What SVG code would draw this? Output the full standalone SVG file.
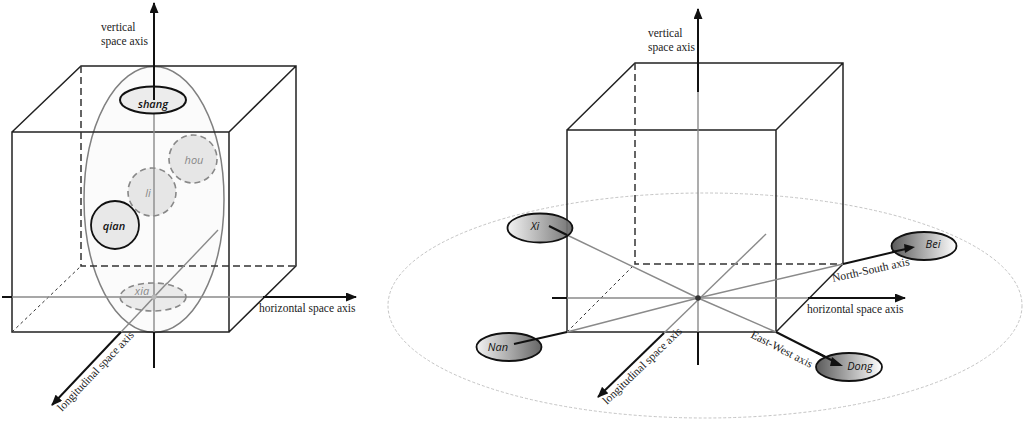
<svg xmlns="http://www.w3.org/2000/svg" width="1024" height="421" viewBox="0 0 1024 421">
<defs>
<marker id="arr" markerUnits="userSpaceOnUse" markerWidth="11" markerHeight="9" refX="10" refY="4.5" orient="auto"><path d="M0,0 L11,4.5 L0,9 z" fill="#111"/></marker>
<linearGradient id="gLD" x1="0" y1="0" x2="1" y2="0"><stop offset="0" stop-color="#f2f2f2"/><stop offset="1" stop-color="#666"/></linearGradient>
<linearGradient id="gDL" x1="0" y1="0" x2="1" y2="0"><stop offset="0" stop-color="#5a5a5a"/><stop offset="1" stop-color="#ffffff"/></linearGradient>
<style>
.cube{stroke:#222;stroke-width:1.5;fill:none}
.dash{stroke:#333;stroke-width:1.5;fill:none;stroke-dasharray:7 4}
.fdash{stroke:#333;stroke-width:1;fill:none;stroke-dasharray:3 3}
.gray{stroke:#8a8a8a;stroke-width:1.4;fill:none}
.blk{stroke:#111;stroke-width:2;fill:none}
.ax{font-family:"Liberation Serif",serif;font-size:11.5px;fill:#222}
.nd{font-family:"Open Sans","Liberation Sans",sans-serif;font-style:italic;font-size:11px;text-anchor:middle}
.solid{stroke:#111;stroke-width:1.8}
.dsh{stroke:#888;stroke-width:1.6;stroke-dasharray:6 4;fill:#e6e6e6}
</style>
</defs>
<rect width="1024" height="421" fill="#fff"/>

<!-- ===== Left diagram ===== -->
<g id="left-cube">
<ellipse id="orbit" cx="154" cy="199.5" rx="70" ry="133" fill="#fbfbfb" stroke="#808080" stroke-width="1.5"/>
<path class="cube" d="M12,132 H229 V332 H12 Z M12,132 L81,66 H296 V266 L229,332 M229,132 L296,66"/>
<path class="dash" d="M81,66 V266 H296"/>
<path class="fdash" d="M12,332 L81,266"/>
</g>

<g id="connectors">
<line class="gray" x1="154" y1="100" x2="154" y2="332"/>
<line class="blk" x1="154" y1="100" x2="154" y2="3" marker-end="url(#arr)"/>
<line class="blk" x1="154" y1="332" x2="154" y2="368"/>
<line class="blk" x1="2" y1="297" x2="12" y2="297"/>
<line class="gray" x1="12" y1="297" x2="263" y2="297"/>
<line class="blk" x1="263" y1="297" x2="356" y2="297" marker-end="url(#arr)"/>
<line class="gray" x1="218" y1="230" x2="121" y2="332"/>
<line class="blk" x1="121" y1="332" x2="52" y2="405" marker-end="url(#arr)"/>
<text class="ax" x="101" y="31">vertical</text>
<text class="ax" x="101" y="45">space axis</text>
<text class="ax" x="259" y="312">horizontal space axis</text>
<text class="ax" transform="translate(62,412) rotate(-46.5)">longitudinal space axis</text>
</g>

<g id="node-shang">
<ellipse cx="153" cy="100" rx="33" ry="13.5" fill="#ececec" stroke="#111" stroke-width="2"/>
<line class="blk" x1="154" y1="87" x2="154" y2="100"/>
<text class="nd" x="153" y="108" font-weight="600" fill="#111">shang</text>
</g>
<g id="node-hou">
<circle cx="193" cy="159" r="24" class="dsh"/>
<text class="nd" x="194" y="164" fill="#888">hou</text>
</g>
<g id="node-li">
<circle cx="152" cy="192" r="24" class="dsh"/>
<line class="gray" x1="154" y1="168" x2="154" y2="216"/>
<text class="nd" x="148" y="197" fill="#888">li</text>
</g>
<g id="node-qian">
<circle cx="115" cy="225" r="24" fill="#e8e8e8" class="solid"/>
<text class="nd" x="114" y="230" font-weight="600" fill="#111">qian</text>
</g>
<g id="node-xia">
<ellipse cx="153" cy="297" rx="33" ry="14" class="dsh" fill-opacity="0.85"/>
<line class="gray" x1="120" y1="297" x2="187" y2="297"/>
<line class="gray" x1="154" y1="283" x2="154" y2="311"/>
<line class="gray" x1="167" y1="283" x2="141" y2="311"/>
<circle cx="154" cy="297" r="2.5" fill="#b8b8b8"/>
<text class="nd" x="142" y="295" fill="#888">xia</text>
</g>

<!-- ===== Right diagram ===== -->
<g id="right-plane">
<ellipse cx="705" cy="305.5" rx="317" ry="112.5" fill="none" stroke="#c4c4c4" stroke-width="1" stroke-dasharray="3 2"/>
</g>
<g id="right-cube">
<path class="cube" d="M567,130 H776 V332 H567 Z M567,130 L635,63 H843 V264 L776,332 M776,130 L843,63"/>
<path class="dash" d="M635,63 V264 H843"/>
<path class="fdash" d="M567,332 L635,264"/>
</g>

<g id="connectors-right">
<line class="gray" x1="698" y1="92" x2="698" y2="332"/>
<line class="blk" x1="698" y1="92" x2="698" y2="9" marker-end="url(#arr)"/>
<line class="blk" x1="698" y1="332" x2="698" y2="365"/>
<line class="blk" x1="552" y1="298" x2="567" y2="298"/>
<line class="gray" x1="567" y1="298" x2="808" y2="298"/>
<line class="blk" x1="808" y1="298" x2="905" y2="298" marker-end="url(#arr)"/>
<line class="gray" x1="766" y1="234" x2="664" y2="333"/>
<line class="blk" x1="664" y1="333" x2="598" y2="397" marker-end="url(#arr)"/>
<polyline class="gray" points="567,235 698,298 776,332"/>
<line class="blk" x1="776" y1="332" x2="843" y2="366" marker-end="url(#arr)"/>
<polyline class="gray" points="567,332 698,298 843,264"/>
<line class="blk" x1="843" y1="264" x2="915" y2="247" marker-end="url(#arr)"/>
<circle cx="698" cy="298" r="2.8" fill="#333"/>
<text class="ax" x="648" y="37">vertical</text>
<text class="ax" x="648" y="51">space axis</text>
<text class="ax" x="807" y="313">horizontal space axis</text>
<text class="ax" transform="translate(607,405) rotate(-44)">longitudinal space axis</text>
<text class="ax" transform="translate(833,282) rotate(-12.5)">North-South axis</text>
<text class="ax" transform="translate(750,337) rotate(27.3)">East-West axis</text>
</g>

<g id="node-Xi">
<ellipse cx="540" cy="228" rx="32.5" ry="14.5" fill="url(#gLD)" stroke="#111" stroke-width="1.8" fill-opacity="0.92"/>
<line class="blk" x1="549" y1="226" x2="567" y2="235"/>
<text class="nd" x="535" y="230" fill="#111">Xi</text>
</g>
<g id="node-Nan">
<ellipse cx="509" cy="347" rx="32.5" ry="14" fill="url(#gLD)" stroke="#111" stroke-width="1.8"/>
<line class="blk" x1="514" y1="344" x2="567" y2="332"/>
<text class="nd" x="498" y="351" fill="#111">Nan</text>
</g>
<g id="node-Bei">
<ellipse cx="924" cy="246" rx="32.5" ry="14" fill="url(#gDL)" stroke="#111" stroke-width="1.8"/>
<line class="blk" x1="892" y1="252" x2="906" y2="249"/>
<path d="M904,244 L915,247 L905,253 z" fill="#111"/>
<text class="nd" x="933" y="248" fill="#111">Bei</text>
</g>
<g id="node-Dong">
<ellipse cx="849" cy="367" rx="33" ry="14" fill="url(#gDL)" stroke="#111" stroke-width="1.8"/>
<line class="blk" x1="816" y1="352" x2="835" y2="362"/>
<path d="M832,357 L843,366 L830,366 z" fill="#111"/>
<text class="nd" x="860" y="370" fill="#111">Dong</text>
</g>
</svg>
